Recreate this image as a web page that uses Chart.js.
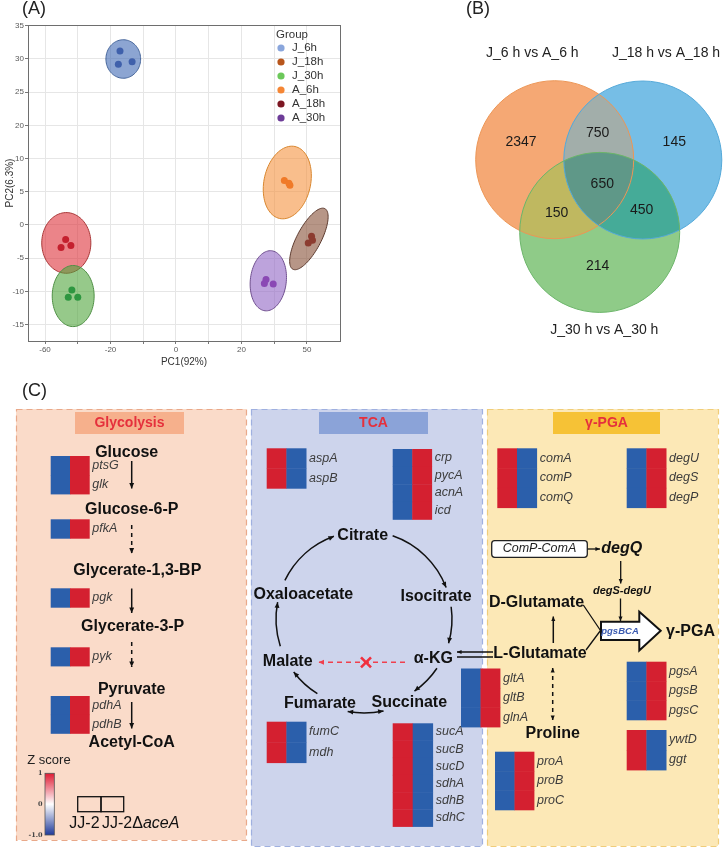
<!DOCTYPE html>
<html>
<head>
<meta charset="utf-8">
<title>PCA, Venn and pathway heatmap</title>
<script src="https://cdn.jsdelivr.net/npm/chart.js@4.4.1/dist/chart.umd.min.js"></script>
<style>
    body { margin: 0; background: #fff; }
    #page { position: relative; width: 725px; height: 854px; overflow: hidden; }
    canvas { position: absolute; }
    #pca { left: 0; top: 0; }
    #venn { left: 370px; top: 0; }
    #pathway { left: 0; top: 370px; }
</style>
</head>
<body>
<div id="page">
    <canvas id="pca" width="370" height="372"></canvas>
    <canvas id="venn" width="355" height="370"></canvas>
    <canvas id="pathway" width="725" height="484"></canvas>
</div>
<script>
// ============================================
// DATA - PANEL A (PCA scores)
// ============================================
const groups = ['J_6h', 'J_18h', 'J_30h', 'A_6h', 'A_18h', 'A_30h'];
const pc1 = [
    [-17.1, -17.6, -13.4],
    [-33.7, -35.1, -32.1],
    [-31.8, -32.9, -30.0],
    [33.1, 34.8, 34.5],
    [41.4, 40.4, 41.7],
    [27.5, 27.0, 29.7],
];
const pc2 = [
    [26.2, 24.2, 24.6],
    [-2.2, -3.4, -3.1],
    [-9.8, -10.9, -10.9],
    [6.7, 6.0, 6.3],
    [-1.7, -2.7, -2.3],
    [-8.2, -8.8, -8.9],
];
// confidence ellipses: centre and two conjugate half-axes, in PC units
const ellCenterX = [-16.1, -33.5, -31.4, 34.0, 40.6, 28.2];
const ellCenterY = [25.0, -2.7, -10.7, 6.4, -2.1, -8.4];
const ellAxisA = [[5.3, 0], [7.5, 0], [6.4, 0], [2.35, 5.42], [4.9, 4.56], [1.0, 4.52]];
const ellAxisB = [[0, 2.9], [0, 4.57], [0, 4.6], [6.96, -0.74], [3.24, -0.84], [5.46, -0.3]];

const xGridValues = [-40, -30, -20, -10, 0, 10, 20, 30, 40];
const xLabelValues = [-40, -20, 0, 20, 40];
const xTickLabels = ['-60', '-20', '0', '20', '50'];
const yTickValues = [-15, -10, -5, 0, 5, 10, 15, 20, 25, 30];
const yTickLabels = ['-15', '-10', '-5', '0', '5', '10', '20', '25', '30', '35'];

// ============================================
// DATA - PANEL B (Venn)
// ============================================
const vennSets = ['J_6 h vs A_6 h', 'J_18 h vs A_18 h', 'J_30 h vs A_30 h'];
// 6h only, 6h&18h, 18h only, all three, 6h&30h, 18h&30h, 30h only
const vennCounts = [2347, 750, 145, 650, 150, 450, 214];

// ============================================
// DATA - PANEL C (Z score per gene)
// ============================================
const strains = ['JJ-2', 'JJ-2ΔaceA'];
const genes = [
    'ptsG', 'glk', 'pfkA', 'pgk', 'pyk', 'pdhA', 'pdhB',
    'aspA', 'aspB', 'crp', 'pycA', 'acnA', 'icd', 'fumC', 'mdh',
    'sucA', 'sucB', 'sucD', 'sdhA', 'sdhB', 'sdhC',
    'comA', 'comP', 'comQ', 'degU', 'degS', 'degP',
    'gltA', 'gltB', 'glnA', 'proA', 'proB', 'proC',
    'pgsA', 'pgsB', 'pgsC', 'ywtD', 'ggt',
];
const zJJ2 = [
    -1, -1, -1, -1, -1, -1, -1,
    1, 1, -1, -1, -1, -1, 1, 1,
    1, 1, 1, 1, 1, 1,
    1, 1, 1, -1, -1, -1,
    -1, -1, -1, -1, -1, -1,
    -1, -1, -1, 1, 1,
];
const zAceA = [
    1, 1, 1, 1, 1, 1, 1,
    -1, -1, 1, 1, 1, 1, -1, -1,
    -1, -1, -1, -1, -1, -1,
    -1, -1, -1, 1, 1, 1,
    1, 1, 1, 1, 1, 1,
    1, 1, 1, -1, -1,
];
const zTickValues = [1, 0, -1];
const zTickLabels = ['1', '0', '-1.0'];

// ============================================
// STYLE
// ============================================
const FONT = "'Liberation Sans', Arial, sans-serif";
const pointColors = ['#3f60ab', '#c4202e', '#2e9640', '#f07a28', '#8c3c30', '#8a48b4'];
const legendColors = ['#8aa6dc', '#b8561c', '#6cc85a', '#f58634', '#7c1622', '#6d3c98'];
const ellFill = [
    'rgba(63,105,180,0.6)', 'rgba(222,50,58,0.6)', 'rgba(80,165,60,0.6)',
    'rgba(245,147,63,0.6)', 'rgba(135,80,55,0.6)', 'rgba(145,102,197,0.6)',
];
const ellEdge = ['#45659a', '#a83838', '#4f8f45', '#d8862e', '#5c3a2e', '#70508f'];
const heatLow = [43, 95, 171];
const heatHigh = [212, 32, 48];

function zColor(z) {
    const f = Math.min(1, Math.abs(z));
    const c = z < 0 ? heatLow : heatHigh;
    const m = c.map((v) => Math.round(255 + (v - 255) * f));
    return `rgb(${m[0]},${m[1]},${m[2]})`;
}

function drawText(ctx, s, x, y, font, color, align) {
    ctx.font = font;
    ctx.fillStyle = color || '#111';
    ctx.textAlign = align || 'center';
    ctx.textBaseline = 'middle';
    ctx.fillText(s, x, y);
}

function arrowHead(ctx, x, y, ang, s) {
    s = s || 6;
    ctx.beginPath();
    ctx.moveTo(x, y);
    ctx.lineTo(x - s * Math.cos(ang - 0.42), y - s * Math.sin(ang - 0.42));
    ctx.lineTo(x - s * Math.cos(ang + 0.42), y - s * Math.sin(ang + 0.42));
    ctx.closePath();
    ctx.fill();
}

function arrow(ctx, x1, y1, x2, y2, opt) {
    opt = opt || {};
    ctx.save();
    ctx.strokeStyle = opt.color || '#111';
    ctx.fillStyle = opt.color || '#111';
    ctx.lineWidth = opt.width || 1.5;
    if (opt.dash) ctx.setLineDash(opt.dash);
    ctx.beginPath();
    ctx.moveTo(x1, y1);
    ctx.lineTo(x2, y2);
    ctx.stroke();
    ctx.setLineDash([]);
    if (!opt.noHead) arrowHead(ctx, x2, y2, Math.atan2(y2 - y1, x2 - x1), opt.head);
    if (opt.both) arrowHead(ctx, x1, y1, Math.atan2(y1 - y2, x1 - x2), opt.head);
    ctx.restore();
}

// ============================================
// PANEL A - PCA SCATTER
// ============================================
const ellipsePlugin = {
    id: 'ellipses',
    beforeDatasetsDraw(chart) {
        const { ctx, scales } = chart;
        const sx = scales.x, sy = scales.y;
        groups.forEach((g, i) => {
            ctx.beginPath();
            for (let k = 0; k <= 90; k++) {
                const t = (k / 90) * Math.PI * 2;
                const vx = ellCenterX[i] + ellAxisA[i][0] * Math.cos(t) + ellAxisB[i][0] * Math.sin(t);
                const vy = ellCenterY[i] + ellAxisA[i][1] * Math.cos(t) + ellAxisB[i][1] * Math.sin(t);
                const px = sx.getPixelForValue(vx), py = sy.getPixelForValue(vy);
                if (k === 0) ctx.moveTo(px, py); else ctx.lineTo(px, py);
            }
            ctx.closePath();
            ctx.fillStyle = ellFill[i];
            ctx.fill();
            ctx.strokeStyle = ellEdge[i];
            ctx.lineWidth = 1;
            ctx.stroke();
        });
    },
    afterDraw(chart) {
        const { ctx, chartArea: a } = chart;
        ctx.save();
        ctx.strokeStyle = '#6e6e6e';
        ctx.lineWidth = 1;
        ctx.strokeRect(a.left + 0.5, a.top + 0.5, a.right - a.left, a.bottom - a.top);
        // legend
        drawText(ctx, 'Group', 276, 35, `11.5px ${FONT}`, '#333', 'left');
        groups.forEach((g, i) => {
            const y = 48 + i * 14;
            ctx.beginPath();
            ctx.arc(281, y, 3.6, 0, Math.PI * 2);
            ctx.fillStyle = legendColors[i];
            ctx.fill();
            drawText(ctx, g, 292, y, `11.5px ${FONT}`, '#333', 'left');
        });
        drawText(ctx, '(A)', 22, 9, `18px ${FONT}`, '#222', 'left');
        ctx.restore();
    },
};

function createPcaChart() {
    const ctx = document.getElementById('pca');
    const tickFont = { family: FONT, size: 8 };
    new Chart(ctx, {
        type: 'scatter',
        data: {
            datasets: groups.map((g, i) => ({
                label: g,
                data: pc1[i].map((x, j) => ({ x: x, y: pc2[i][j] })),
                backgroundColor: pointColors[i],
                borderColor: pointColors[i],
                borderWidth: 0,
                pointRadius: 3.5,
            })),
        },
        options: {
            responsive: false,
            animation: false,
            devicePixelRatio: 1,
            layout: { padding: { top: 25, right: 30, left: 0, bottom: 0 } },
            plugins: { legend: { display: false }, tooltip: { enabled: false } },
            scales: {
                x: {
                    type: 'linear',
                    min: -45.2,
                    max: 50.1,
                    afterBuildTicks: (s) => { s.ticks = xGridValues.map((v) => ({ value: v })); },
                    afterFit: (s) => { s.height = 31; },
                    ticks: {
                        autoSkip: false,
                        maxRotation: 0,
                        padding: 1,
                        font: tickFont,
                        color: '#5a5a5a',
                        callback: (v) => {
                            const i = xLabelValues.indexOf(v);
                            return i < 0 ? '' : xTickLabels[i];
                        },
                    },
                    grid: { color: '#e6e6e6', tickLength: 3, tickColor: '#777' },
                    border: { color: '#6e6e6e' },
                    title: { display: true, text: 'PC1(92%)', color: '#333', font: { family: FONT, size: 10 } },
                },
                y: {
                    type: 'linear',
                    min: -17.47,
                    max: 30.12,
                    afterBuildTicks: (s) => { s.ticks = yTickValues.map((v) => ({ value: v })); },
                    afterFit: (s) => { s.width = 28; },
                    ticks: {
                        autoSkip: false,
                        padding: 1,
                        font: tickFont,
                        color: '#5a5a5a',
                        callback: (v) => {
                            const i = yTickValues.indexOf(v);
                            return i < 0 ? '' : yTickLabels[i];
                        },
                    },
                    grid: { color: '#e6e6e6', tickLength: 3, tickColor: '#777' },
                    border: { color: '#6e6e6e' },
                    title: { display: true, text: 'PC2(6.3%)', color: '#333', font: { family: FONT, size: 10 } },
                },
            },
        },
        plugins: [ellipsePlugin],
    });
}

// ============================================
// DIAGRAM CHARTS (panels B and C)
// ============================================
// hidden linear axes in page coordinates; every mark goes through them
function createDiagram(id, x0, x1, y0, y1, draw) {
    const el = document.getElementById(id);
    return new Chart(el, {
        type: 'scatter',
        data: { datasets: [] },
        options: {
            responsive: false,
            animation: false,
            devicePixelRatio: 1,
            layout: { padding: 0 },
            plugins: { legend: { display: false }, tooltip: { enabled: false } },
            scales: {
                x: { type: 'linear', min: x0, max: x1, display: false },
                y: { type: 'linear', min: y0, max: y1, reverse: true, display: false },
            },
        },
        plugins: [{
            id: 'draw-' + id,
            afterDraw(chart) {
                const X = (v) => chart.scales.x.getPixelForValue(v);
                const Y = (v) => chart.scales.y.getPixelForValue(v);
                chart.ctx.save();
                draw(chart.ctx, X, Y);
                chart.ctx.restore();
            },
        }],
    });
}

// ============================================
// PANEL B - VENN
// ============================================
const vennCircles = [
    { cx: 554.7, cy: 159.7, r: 79, fill: '#f5a874', edge: '#ec9656' },
    { cx: 642.8, cy: 160.0, r: 79, fill: '#76bee6', edge: '#55a9d9' },
    { cx: 599.7, cy: 232.4, r: 80, fill: '#8fcb88', edge: '#6cb56a' },
];
// overlap shades: 6h&18h, 6h&30h, 18h&30h, all three
const vennOverlaps = [
    [[0, 1], '#a2aeaa'],
    [[0, 2], '#bfb860'],
    [[1, 2], '#45ab98'],
    [[0, 1, 2], '#5f9888'],
];
const vennSetPos = [[532.3, 53.5], [666, 53.5], [604.3, 330]];
const vennCountPos = [[521, 141.7], [597.7, 132.7], [674.3, 141.7], [602.3, 184], [556.7, 213.3], [641.7, 210], [597.7, 265.7]];

function drawVenn(ctx, X, Y) {
    const circlePath = (c) => {
        ctx.beginPath();
        ctx.arc(X(c.cx), Y(c.cy), X(c.cx + c.r) - X(c.cx), 0, Math.PI * 2);
    };
    vennCircles.forEach((c) => {
        circlePath(c);
        ctx.fillStyle = c.fill;
        ctx.fill();
    });
    vennOverlaps.forEach(([ids, color]) => {
        ctx.save();
        ids.forEach((k) => { circlePath(vennCircles[k]); ctx.clip(); });
        ctx.fillStyle = color;
        ctx.fillRect(0, 0, ctx.canvas.width, ctx.canvas.height);
        ctx.restore();
    });
    vennCircles.forEach((c) => {
        circlePath(c);
        ctx.strokeStyle = c.edge;
        ctx.lineWidth = 1;
        ctx.stroke();
    });
    vennSets.forEach((s, i) => {
        drawText(ctx, s, X(vennSetPos[i][0]), Y(vennSetPos[i][1]), `14px ${FONT}`, '#222');
    });
    vennCounts.forEach((n, i) => {
        drawText(ctx, String(n), X(vennCountPos[i][0]), Y(vennCountPos[i][1]), `14px ${FONT}`, '#1a1a1a');
    });
    drawText(ctx, '(B)', X(466), Y(9), `18px ${FONT}`, '#222', 'left');
}

// ============================================
// PANEL C - PATHWAY WITH HEATMAPS
// ============================================
const pathBoxes = [
    { x0: 16, x1: 246, y0: 409, y1: 840, fill: '#fadbc9', edge: '#e9a98a',
      title: 'Glycolysis', tx0: 75, tx1: 184, tFill: '#f6b08c' },
    { x0: 251, x1: 482, y0: 409, y1: 846, fill: '#cdd4ec', edge: '#9fb0e0',
      title: 'TCA', tx0: 319, tx1: 428, tFill: '#8ba3d8' },
    { x0: 487, x1: 718, y0: 409, y1: 846, fill: '#fce8b6', edge: '#f0cd7a',
      title: 'γ-PGA', tx0: 553, tx1: 660, tFill: '#f6c236' },
];
// heatmap blocks: first gene index, number of rows, top-left, cell width, row height
const heatBlocks = [
    { from: 0, n: 2, x: 50.7, y: 456, cw: 19.3, rh: 19 },
    { from: 2, n: 1, x: 50.7, y: 519.3, cw: 19.3, rh: 19 },
    { from: 3, n: 1, x: 50.7, y: 588.3, cw: 19.3, rh: 19 },
    { from: 4, n: 1, x: 50.7, y: 647.3, cw: 19.3, rh: 18.7 },
    { from: 5, n: 2, x: 50.7, y: 696, cw: 19.3, rh: 18.7 },
    { from: 7, n: 2, x: 266.7, y: 448.3, cw: 19.7, rh: 20 },
    { from: 9, n: 4, x: 392.7, y: 449, cw: 19.5, rh: 17.6 },
    { from: 13, n: 2, x: 266.7, y: 721.7, cw: 19.7, rh: 20.5 },
    { from: 15, n: 6, x: 392.7, y: 723.3, cw: 20, rh: 17.2 },
    { from: 21, n: 3, x: 497.3, y: 448.3, cw: 19.7, rh: 19.8 },
    { from: 24, n: 3, x: 626.7, y: 448.3, cw: 19.7, rh: 19.8 },
    { from: 27, n: 3, x: 461, y: 668.5, cw: 19.5, rh: 19.5 },
    { from: 30, n: 3, x: 495, y: 751.7, cw: 19.5, rh: 19.4 },
    { from: 33, n: 3, x: 626.7, y: 661.7, cw: 19.7, rh: 19.4 },
    { from: 36, n: 2, x: 626.7, y: 730, cw: 19.7, rh: 20 },
];
const metabolites = [
    ['Glucose', 126.7, 452.3], ['Glucose-6-P', 131.7, 509.3], ['Glycerate-1,3-BP', 137.3, 571],
    ['Glycerate-3-P', 132.7, 626.7], ['Pyruvate', 131.7, 689.3], ['Acetyl-CoA', 131.7, 742.7],
    ['Citrate', 362.7, 536], ['Oxaloacetate', 303.3, 594.3], ['Isocitrate', 436, 596.7],
    ['Malate', 287.7, 661.7], ['α-KG', 433.3, 658.3], ['Fumarate', 320, 704], ['Succinate', 409.3, 702.7],
    ['D-Glutamate', 536.5, 602.5], ['L-Glutamate', 540, 653.5], ['Proline', 552.7, 734], ['γ-PGA', 690.5, 631.5],
];
// TCA cycle arcs (degrees, clockwise)
const tcaCentre = [364, 619];
const tcaArcs = [
    [88, -154, -110, false], [88, -71, -21, false], [88, -8, 16, false], [88, 34, 55, false],
    [94, 78, 100, true], [88, 122, 143, false], [88, 162, 191, false],
];

function drawPathway(ctx, X, Y) {
    // background boxes and titles
    pathBoxes.forEach((b) => {
        ctx.fillStyle = b.fill;
        ctx.fillRect(X(b.x0), Y(b.y0), X(b.x1) - X(b.x0), Y(b.y1) - Y(b.y0));
        ctx.setLineDash([6, 4]);
        ctx.strokeStyle = b.edge;
        ctx.lineWidth = 1.2;
        ctx.strokeRect(X(b.x0) + 0.5, Y(b.y0) + 0.5, X(b.x1) - X(b.x0), Y(b.y1) - Y(b.y0));
        ctx.setLineDash([]);
        ctx.fillStyle = b.tFill;
        ctx.fillRect(X(b.tx0), Y(b.y0 + 3), X(b.tx1) - X(b.tx0), Y(b.y0 + 25) - Y(b.y0 + 3));
        drawText(ctx, b.title, X((b.tx0 + b.tx1) / 2), Y(b.y0 + 14.5), `bold 14px ${FONT}`, '#e5303c');
    });
    drawText(ctx, '(C)', X(22), Y(391), `18px ${FONT}`, '#222', 'left');

    // heatmaps
    heatBlocks.forEach((b) => {
        for (let r = 0; r < b.n; r++) {
            const g = b.from + r;
            const y0 = b.y + r * b.rh;
            [zJJ2[g], zAceA[g]].forEach((z, c) => {
                ctx.fillStyle = zColor(z);
                ctx.fillRect(X(b.x + c * b.cw), Y(y0), X(b.x + (c + 1) * b.cw) - X(b.x + c * b.cw) + 0.4, Y(y0 + b.rh) - Y(y0) + 0.4);
            });
            drawText(ctx, genes[g], X(b.x + 2 * b.cw + 3), Y(y0 + b.rh / 2), `italic 12.5px ${FONT}`, '#3c3c3c', 'left');
        }
    });

    // metabolites
    metabolites.forEach((m) => drawText(ctx, m[0], X(m[1]), Y(m[2]), `bold 16px ${FONT}`, '#111'));

    // glycolysis arrows
    const gx = X(131.7);
    arrow(ctx, gx, Y(461), gx, Y(488.5));
    arrow(ctx, gx, Y(525), gx, Y(553.5), { dash: [4, 4] });
    arrow(ctx, gx, Y(588.5), gx, Y(613));
    arrow(ctx, gx, Y(642), gx, Y(667), { dash: [4, 4] });
    arrow(ctx, gx, Y(702), gx, Y(728.5));

    // TCA cycle
    ctx.strokeStyle = '#111';
    ctx.fillStyle = '#111';
    ctx.lineWidth = 1.5;
    const cx = X(tcaCentre[0]), cy = Y(tcaCentre[1]);
    tcaArcs.forEach(([r, a0, a1, both]) => {
        const rp = X(tcaCentre[0] + r) - X(tcaCentre[0]);
        const t0 = (a0 * Math.PI) / 180, t1 = (a1 * Math.PI) / 180;
        ctx.beginPath();
        ctx.arc(cx, cy, rp, t0, t1);
        ctx.stroke();
        arrowHead(ctx, cx + rp * Math.cos(t1), cy + rp * Math.sin(t1), t1 + Math.PI / 2 - 0.08, 6);
        if (both) arrowHead(ctx, cx + rp * Math.cos(t0), cy + rp * Math.sin(t0), t0 - Math.PI / 2 + 0.08, 6);
    });
    // blocked alpha-KG -> malate
    arrow(ctx, X(405), Y(662.3), X(318.5), Y(662.3), { color: '#f0404e', dash: [5, 4], width: 1.6 });
    ctx.strokeStyle = '#f0303e';
    ctx.lineWidth = 2.6;
    ctx.beginPath();
    ctx.moveTo(X(361), Y(657.3)); ctx.lineTo(X(371), Y(667.3));
    ctx.moveTo(X(371), Y(657.3)); ctx.lineTo(X(361), Y(667.3));
    ctx.stroke();
    // alpha-KG <=> L-glutamate
    arrow(ctx, X(493), Y(652), X(457), Y(652), { width: 1.3, head: 5 });
    arrow(ctx, X(457), Y(657), X(493), Y(657), { width: 1.3, noHead: true });

    // gamma-PGA regulation
    ctx.fillStyle = '#fff';
    ctx.strokeStyle = '#222';
    ctx.lineWidth = 1.3;
    ctx.beginPath();
    ctx.roundRect(X(491.7), Y(540.7), X(587.3) - X(491.7), Y(557.3) - Y(540.7), 3);
    ctx.fill();
    ctx.stroke();
    drawText(ctx, 'ComP-ComA', X(539.5), Y(549), `italic 12.5px ${FONT}`, '#222');
    arrow(ctx, X(587.5), Y(549), X(600), Y(549), { width: 1.3, head: 5 });
    drawText(ctx, 'degQ', X(621.7), Y(549), `bold italic 16px ${FONT}`, '#111');
    arrow(ctx, X(620.7), Y(561), X(620.7), Y(583.5), { width: 1.3, head: 5 });
    drawText(ctx, 'degS-degU', X(622), Y(590.5), `bold italic 11px ${FONT}`, '#111');
    arrow(ctx, X(620.5), Y(598.5), X(620.5), Y(621), { width: 1.3, head: 5 });
    arrow(ctx, X(553.3), Y(643), X(553.3), Y(616.5), { width: 1.5, head: 5 });
    arrow(ctx, X(552.7), Y(668), X(552.7), Y(720), { width: 1.5, head: 5, dash: [4, 4], both: true });
    ctx.strokeStyle = '#111';
    ctx.lineWidth = 1.3;
    ctx.beginPath();
    ctx.moveTo(X(583.3), Y(605)); ctx.lineTo(X(600.5), Y(630.5));
    ctx.moveTo(X(586), Y(650)); ctx.lineTo(X(600.5), Y(630.5));
    ctx.stroke();
    // pgsBCA block arrow
    ctx.beginPath();
    ctx.moveTo(X(601), Y(621.7));
    ctx.lineTo(X(639.3), Y(621.7));
    ctx.lineTo(X(639.3), Y(611.7));
    ctx.lineTo(X(660.7), Y(630.8));
    ctx.lineTo(X(639.3), Y(650.5));
    ctx.lineTo(X(639.3), Y(640));
    ctx.lineTo(X(601), Y(640));
    ctx.closePath();
    ctx.fillStyle = '#fff';
    ctx.fill();
    ctx.strokeStyle = '#111';
    ctx.lineWidth = 2;
    ctx.stroke();
    drawText(ctx, 'pgsBCA', X(620), Y(631), `bold italic 9.5px ${FONT}`, '#3a5ab0');

    // colour key
    drawText(ctx, 'Z score', X(27.3), Y(760), `13px ${FONT}`, '#222', 'left');
    const kTop = 773.3, kBot = 835;
    const grad = ctx.createLinearGradient(0, Y(kTop), 0, Y(kBot));
    grad.addColorStop(0, '#e01c34');
    grad.addColorStop(0.5, '#ffffff');
    grad.addColorStop(1, '#1f3a9a');
    ctx.fillStyle = grad;
    ctx.fillRect(X(45), Y(kTop), X(54.3) - X(45), Y(kBot) - Y(kTop));
    ctx.strokeStyle = '#555';
    ctx.lineWidth = 0.8;
    ctx.strokeRect(X(45), Y(kTop), X(54.3) - X(45), Y(kBot) - Y(kTop));
    zTickValues.forEach((v, i) => {
        const y = kTop + ((1 - v) / 2) * (kBot - kTop);
        drawText(ctx, zTickLabels[i], X(42.5), Y(y), `bold 6.5px 'DejaVu Serif', serif`, '#444', 'right');
    });
    // sample key
    ctx.strokeStyle = '#111';
    ctx.lineWidth = 1.3;
    ctx.strokeRect(X(77.7), Y(796.7), X(101) - X(77.7), Y(811.7) - Y(796.7));
    ctx.strokeRect(X(101), Y(796.7), X(123.7) - X(101), Y(811.7) - Y(796.7));
    drawText(ctx, strains[0], X(69.3), Y(823.5), `16px ${FONT}`, '#111', 'left');
    const base = 'JJ-2Δ';
    drawText(ctx, base, X(102), Y(823.5), `16px ${FONT}`, '#111', 'left');
    const w = ctx.measureText(base).width;
    drawText(ctx, strains[1].slice(base.length), X(102) + w, Y(823.5), `italic 16px ${FONT}`, '#111', 'left');
}

// ============================================
// INITIALIZE CHARTS
// ============================================
document.addEventListener('DOMContentLoaded', function () {
    createPcaChart();
    createDiagram('venn', 370, 725, 0, 370, drawVenn);
    createDiagram('pathway', 0, 725, 370, 854, drawPathway);
});
</script>
</body>
</html>
